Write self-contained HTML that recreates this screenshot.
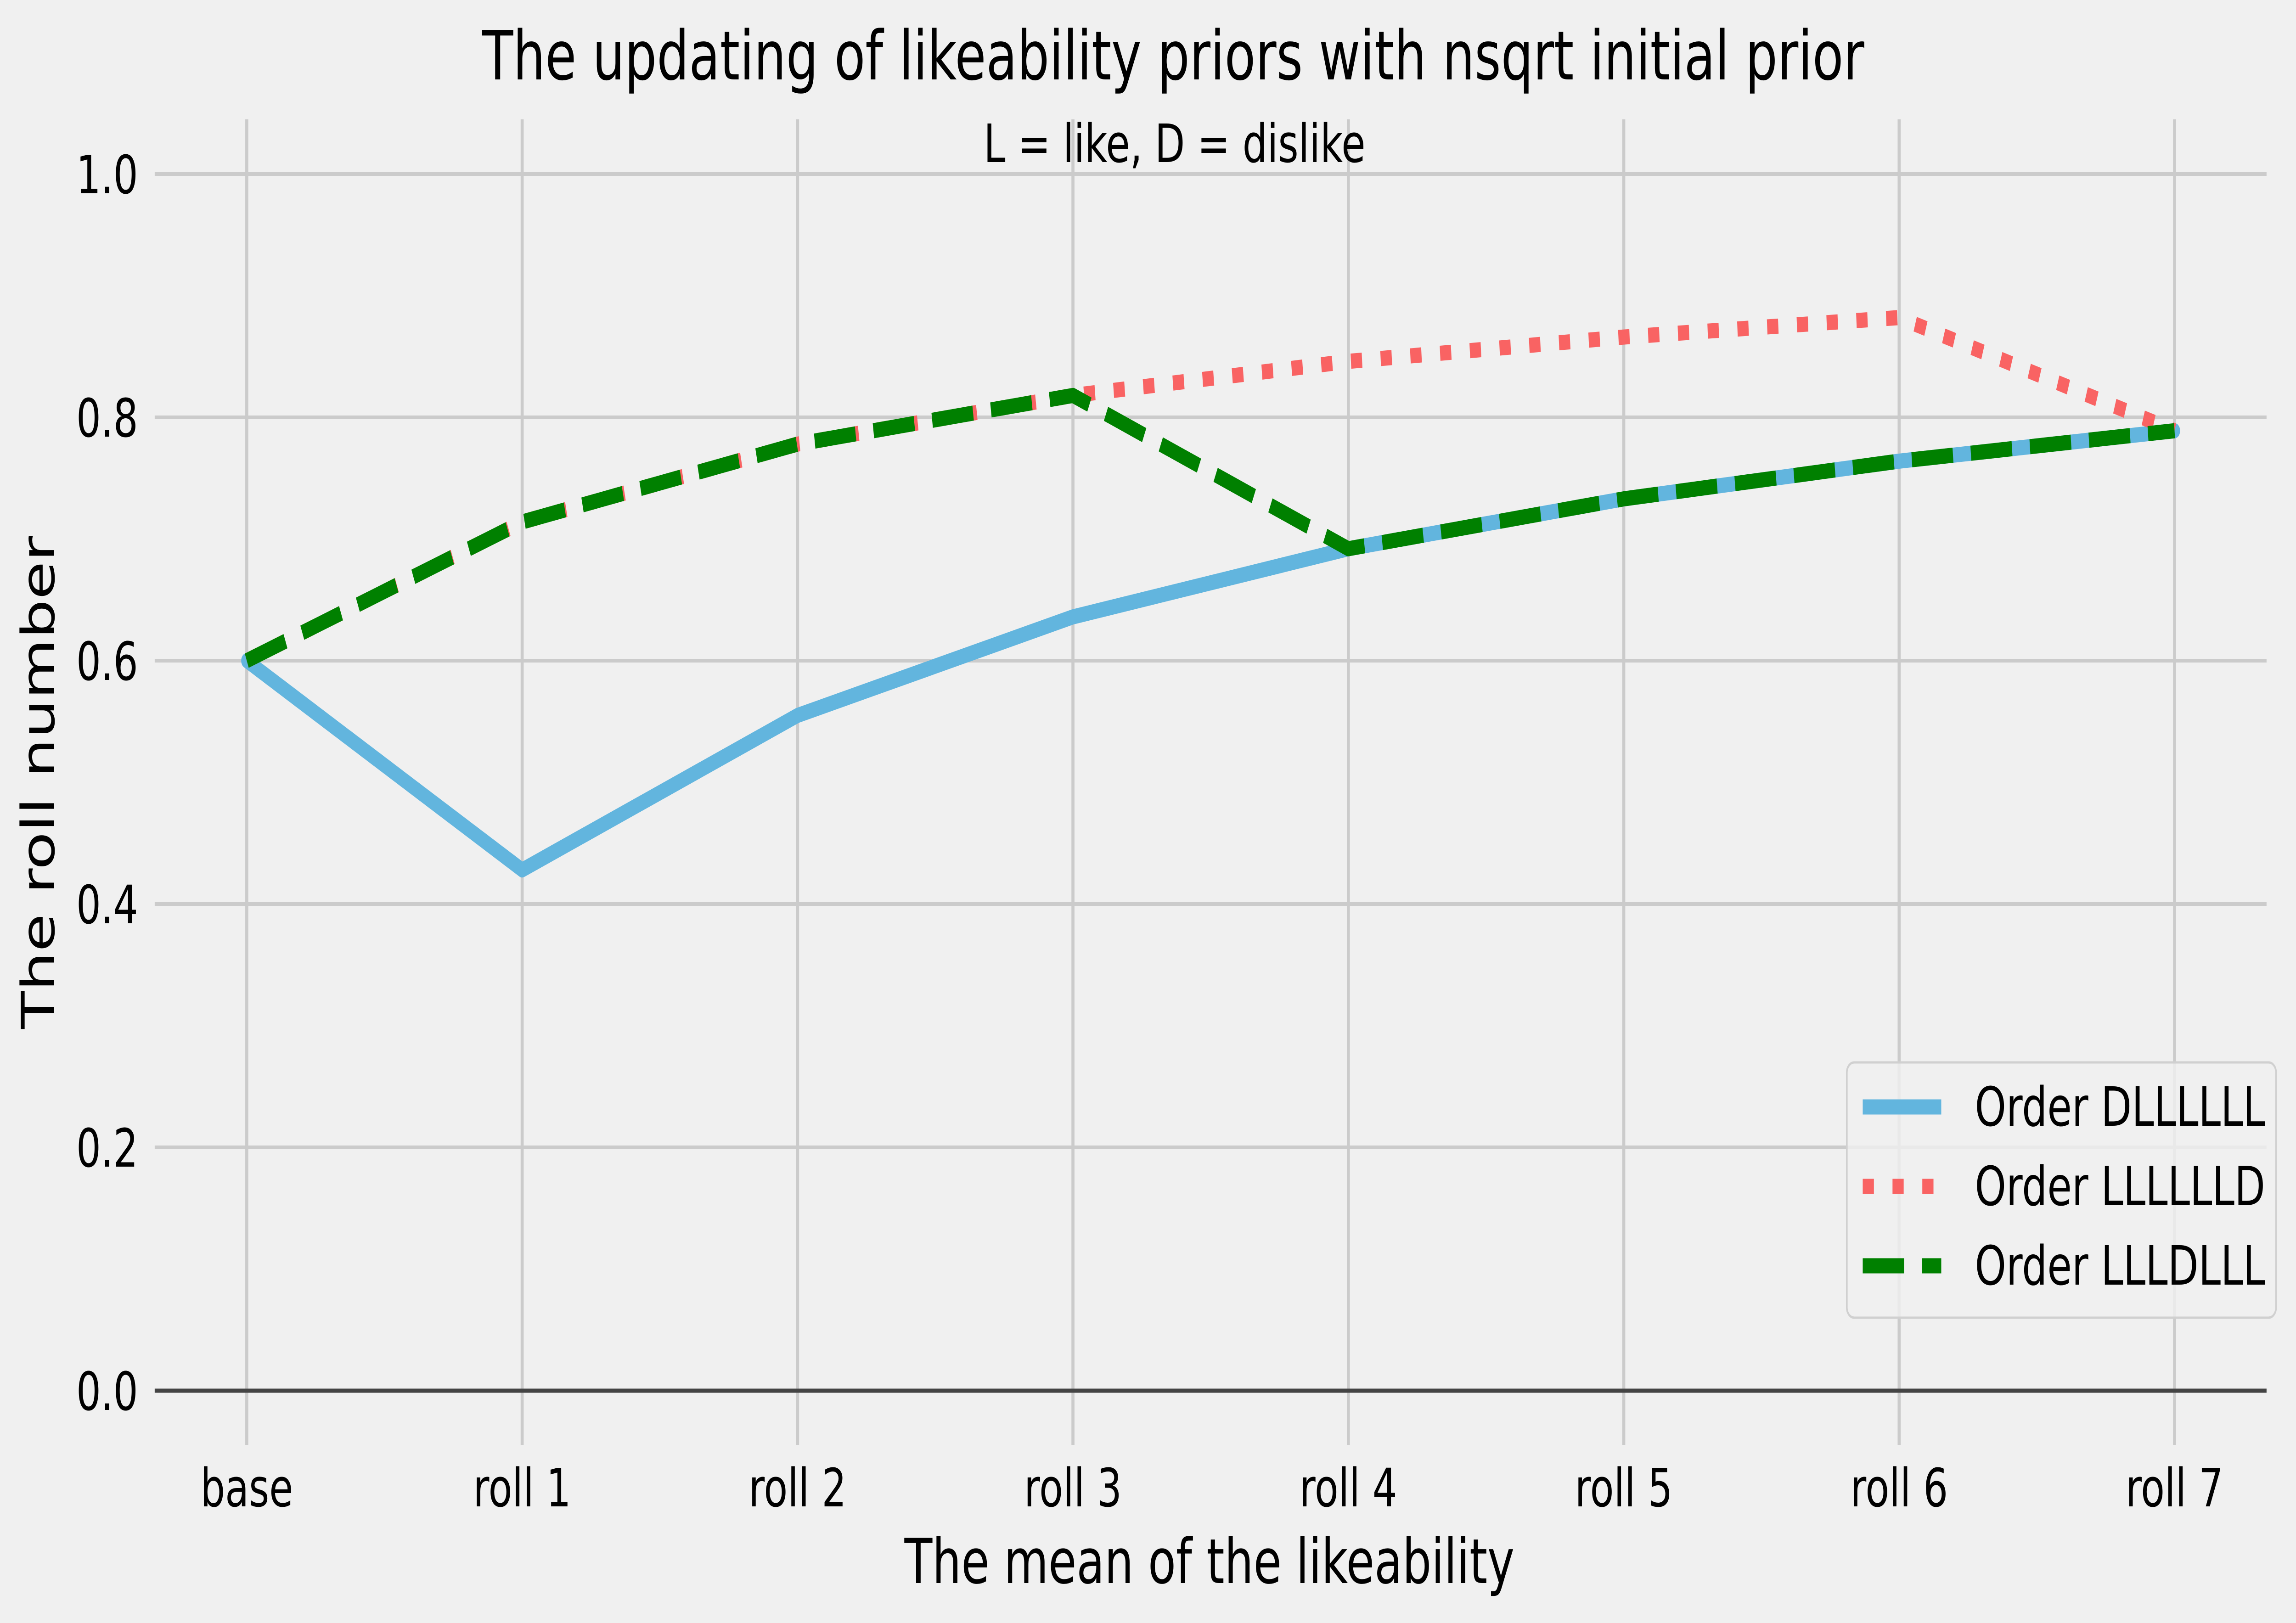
<!DOCTYPE html>
<html><head><meta charset="utf-8"><style>
html,body{margin:0;padding:0;background:#f0f0f0;width:100%;height:100%;overflow:hidden;}
svg{display:block;width:100vw;height:100vh;font-family:"DejaVu Sans","Liberation Sans",sans-serif;}
</style></head><body>
<svg id="chart" viewBox="0 0 6783 3535" preserveAspectRatio="none" xmlns="http://www.w3.org/2000/svg">
<rect x="0" y="0" width="6783" height="3535" fill="#f0f0f0"/>
<text x="3466" y="173" font-size="148" text-anchor="middle" textLength="4083" lengthAdjust="spacingAndGlyphs">The updating of likeability priors with nsqrt initial prior</text>
<g id="grid"></g>
<g id="series"></g>
<text x="3470" y="353" font-size="115" text-anchor="middle" textLength="1128" lengthAdjust="spacingAndGlyphs">L = like, D = dislike</text>
<text x="3573" y="3448" font-size="135" text-anchor="middle">The mean of the likeability</text>
<text x="0" y="0" font-size="135" text-anchor="middle" transform="translate(160,1704) rotate(-90)">The roll number</text>
<g id="legend"></g>
</svg>
<script>
const categories = ["base","roll 1","roll 2","roll 3","roll 4","roll 5","roll 6","roll 7"];
const seriesDLLLLLL = [0.6,0.428,0.555,0.636,0.692,0.733,0.764,0.789];
const seriesLLLLLLD = [0.6,0.714,0.778,0.818,0.846,0.866,0.882,0.789];
const seriesLLLDLLL = [0.6,0.714,0.778,0.818,0.692,0.733,0.764,0.789];
const yTicks = [0.0,0.2,0.4,0.6,0.8,1.0];
const yTickLabels = ["0.0","0.2","0.4","0.6","0.8","1.0"];
const seriesNames = ["Order DLLLLLL","Order LLLLLLD","Order LLLDLLL"];

const NS="http://www.w3.org/2000/svg";
const X0=729, DX=813.6, Y0=3029, Y1=379;
function xs(i){return X0+i*DX;}
function ys(v){return Y0+(Y1-Y0)*v;}
function mk(tag,attrs,parent){const e=document.createElementNS(NS,tag);for(const k in attrs)e.setAttribute(k,attrs[k]);parent.appendChild(e);return e;}
const grid=document.getElementById('grid');
const left=457,right=6696;
yTicks.forEach((t,i)=>{
  const ln=mk('line',{x1:left,x2:right,y1:ys(t),y2:ys(t),stroke:t===0?'#444444':'#cbcbcb','stroke-width':t===0?9:8},grid);
  
  
  const tx=mk('text',{x:408,y:ys(t)+42,'font-size':115,'text-anchor':'end'},grid);
  tx.textContent=yTickLabels[i];
  
  
});
categories.forEach((c,i)=>{
  const ln=mk('line',{x1:xs(i),x2:xs(i),y1:260,y2:3147,stroke:'#cbcbcb','stroke-width':9},grid);
  
  
  const tx=mk('text',{x:xs(i),y:3281,'font-size':115,'text-anchor':'middle'},grid);
  tx.textContent=c;
  
  
});
grid.appendChild(grid.querySelector('line[stroke="#444444"]'));
const sg=document.getElementById('series');
const styles=[
  {color:'#62b5de',dash:null,name:'series-dllllll'},
  {color:'#f96363',dash:'33 55',name:'series-lllllld'},
  {color:'#008000',dash:'122 53',name:'series-llldlll'}];
[seriesDLLLLLL,seriesLLLLLLD,seriesLLLDLLL].forEach((arr,k)=>{
  const pts=arr.map((v,i)=>xs(i)+','+ys(v)).join(' ');
  const a={points:pts,fill:'none',stroke:styles[k].color,'stroke-width':33,'stroke-linejoin':'round','stroke-linecap':styles[k].dash?'butt':'round'};
  if(styles[k].dash)a['stroke-dasharray']=styles[k].dash;
  const p=mk('polyline',a,sg);
  
  
});
const lg=document.getElementById('legend');
const box=mk('rect',{x:5456,y:2314,width:1268,height:556,rx:22,fill:'#f0f0f0','fill-opacity':0.8,stroke:'#d0d0d0','stroke-width':5},lg);


const rowY=[2411,2584,2757];
seriesNames.forEach((n,k)=>{
  const a={x1:5503,x2:5735,y1:rowY[k],y2:rowY[k],stroke:styles[k].color,'stroke-width':33};
  if(styles[k].dash)a['stroke-dasharray']=styles[k].dash;
  const h=mk('line',a,lg);
  
  
  const t=mk('text',{x:5834,y:rowY[k]+41,'font-size':118},lg);
  t.textContent=n;
  
  
});
</script>
</body></html>
